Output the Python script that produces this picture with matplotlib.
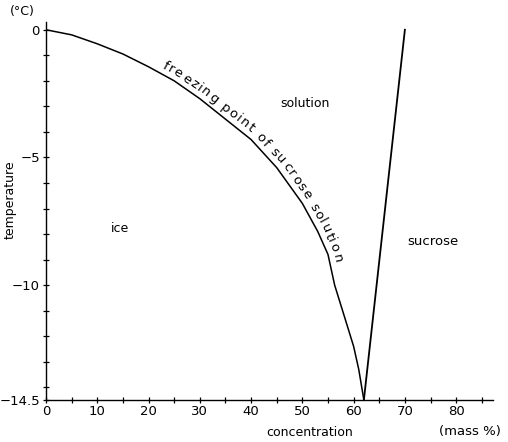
import numpy as np
import matplotlib
matplotlib.use("Agg")
import matplotlib.pyplot as plt
from matplotlib.font_manager import FontProperties

# freezing point curve of sucrose solution
conc = [0, 5, 10, 15, 20, 25, 30, 35, 40, 45, 50, 53, 55, 56.3, 58, 60, 61, 62]
temp = [0, -0.2, -0.55, -0.95, -1.45, -2.0, -2.7, -3.5, -4.3, -5.4, -6.8, -7.9, -8.8, -10.0, -11.1, -12.4, -13.3, -14.5]

# solubility line of sucrose
sol_conc = [62, 70]
sol_temp = [-14.5, 0]

x_ticks = [0, 10, 20, 30, 40, 50, 60, 70, 80]
y_ticks = [0, -5, -10, -14.5]
y_labels = ["0", "\u22125", "\u221210", "\u221214.5"]

curve_label = "freezing point of sucrose solution"

plt.rcParams["font.family"] = "DejaVu Sans"

fig = plt.figure(figsize=(5.08, 4.42), dpi=100)
ax = fig.add_axes([0.0906, 0.095, 0.880, 0.855])

ax.plot(conc, temp, color="black", lw=1.1)
ax.plot(sol_conc, sol_temp, color="black", lw=1.3)

ax.set_xlim(0, 87.2)
ax.set_ylim(-14.5, 0.3)

for side in ["top", "right"]:
    ax.spines[side].set_visible(False)
for side in ["left", "bottom"]:
    ax.spines[side].set_linewidth(1.0)

ax.set_xticks(x_ticks)
ax.set_xticks(np.arange(5, 90, 10), minor=True)
ax.set_yticks(y_ticks)
ax.set_yticklabels(y_labels)
ax.set_yticks(np.arange(-14, 0, 1), minor=True)
ax.tick_params(which="both", direction="inout", length=5, width=0.9, labelsize=9.5)
ax.tick_params(axis="x", pad=1)
ax.tick_params(axis="y", pad=2)

# region labels
ax.text(50.5, -2.9, "solution", fontsize=9, ha="center", va="center")
ax.text(14.4, -7.8, "ice", fontsize=9, ha="center", va="center")
ax.text(75.5, -8.3, "sucrose", fontsize=9.5, ha="center", va="center")

# axis labels
fig.text(10 / 508, 1 - 200 / 442, "temperature", rotation=90, fontsize=9, ha="center", va="center")
fig.text(310 / 508, 1 - 433 / 442, "concentration", fontsize=9, ha="center", va="center")
fig.text(470 / 508, 1 - 431 / 442, "(mass %)", fontsize=9.5, ha="center", va="center")
fig.text(22 / 508, 1 - 12 / 442, "(\u00b0C)", fontsize=9, ha="center", va="center")

# curved label following the freezing curve
fig.canvas.draw()
renderer = fig.canvas.get_renderer()
prop = FontProperties(family="DejaVu Sans", size=9.5)

pts = ax.transData.transform(np.column_stack([conc, temp]))
seg = np.diff(pts, axis=0)
seg_len = np.hypot(seg[:, 0], seg[:, 1])
cum = np.concatenate([[0], np.cumsum(seg_len)])

def point_at(s):
    i = min(np.searchsorted(cum, s) - 1, len(seg) - 1)
    i = max(i, 0)
    f = (s - cum[i]) / seg_len[i]
    p = pts[i] + f * seg[i]
    d = seg[i] / seg_len[i]
    return p, d

def arc_at(idx, x, y):
    # arc length of a point lying on segment idx
    q = ax.transData.transform((x, y))
    return cum[idx] + np.hypot(*(q - pts[idx]))

# label runs from about 22 % to 55.5 % along the curve
start_s = arc_at(4, 22.0, -1.65)
end_s = arc_at(12, 55.5, -9.2)
widths = [renderer.get_text_width_height_descent(ch, prop, ismath=False)[0] for ch in curve_label]
scale = (end_s - start_s) / sum(widths)
offset = 5.0

acc = 0.0
for ch, w in zip(curve_label, widths):
    s = start_s + (acc + w / 2) * scale
    acc += w
    p, d = point_at(s)
    normal = np.array([-d[1], d[0]])
    pos = p + normal * offset
    ang = np.degrees(np.arctan2(d[1], d[0]))
    xd, yd = ax.transData.inverted().transform(pos)
    ax.text(xd, yd, ch, fontproperties=prop, rotation=ang, rotation_mode="anchor",
            ha="center", va="baseline")

fig.savefig("out.png", dpi=100)
